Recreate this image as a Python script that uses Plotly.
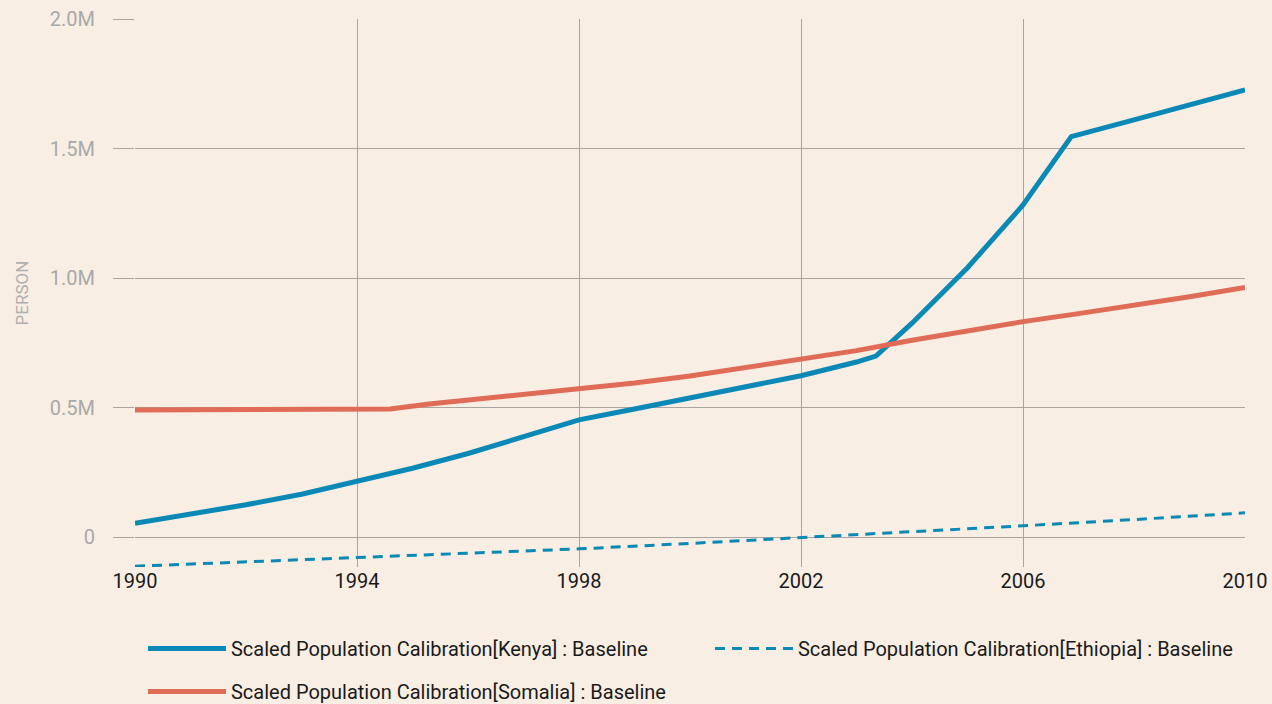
import plotly.graph_objects as go

# values in persons
kenya_years = [1990, 1991, 1992, 1993, 1994, 1995, 1996, 1997, 1998, 1999, 2000,
               2001, 2002, 2003, 2003.35, 2004, 2005, 2006, 2006.87, 2008, 2009, 2010]
kenya_pop = [54e3, 88e3, 125e3, 166e3, 214e3, 266e3, 323e3, 386e3, 453e3, 495e3, 537e3,
             580e3, 623e3, 676e3, 699e3, 826e3, 1040e3, 1282e3, 1546e3, 1611e3, 1668e3, 1726e3]

somalia_years = [1990, 1993.7, 1994.6, 1995.3, 1996, 1997, 1998, 1999, 2000, 2001, 2002,
                 2003, 2004, 2005, 2006, 2007, 2008, 2009, 2010]
somalia_pop = [491e3, 491e3, 495e3, 514e3, 530e3, 551e3, 571e3, 595e3, 622e3, 655e3, 690e3,
               720e3, 760e3, 796e3, 832e3, 863e3, 895e3, 928e3, 964e3]

ethiopia_years = [1990, 1992, 1994, 1996, 1998, 2000, 2002, 2004, 2006, 2008, 2010]
ethiopia_pop = [-112e3, -95e3, -78e3, -62e3, -45e3, -24e3, -2e3, 21e3, 44e3, 68e3, 94e3]

y_ticks = [0, 0.5e6, 1.0e6, 1.5e6, 2.0e6]
y_labels = ["0", "0.5M", "1.0M", "1.5M", "2.0M"]

blue = "#0a88b6"
orange = "#e06b57"
grid = "#aaa49e"
bg = "#f8eee3"
font = "Roboto, sans-serif"

fig = go.Figure()
fig.add_trace(go.Scatter(x=kenya_years, y=kenya_pop, mode="lines",
                         name="Scaled Population Calibration[Kenya] : Baseline",
                         line=dict(color=blue, width=5), legend="legend", showlegend=True))
fig.add_trace(go.Scatter(x=ethiopia_years, y=ethiopia_pop, mode="lines",
                         name="Scaled Population Calibration[Ethiopia] : Baseline",
                         line=dict(color=blue, width=3, dash="10px,7px"), legend="legend2"))
fig.add_trace(go.Scatter(x=somalia_years, y=somalia_pop, mode="lines",
                         name="Scaled Population Calibration[Somalia] : Baseline",
                         line=dict(color=orange, width=5), legend="legend3"))

## one legend box per entry so they sit like the original (two columns)
leg = dict(orientation="h", xanchor="left", yanchor="top", itemwidth=78,
           font=dict(size=20, color="#1a1a1a"), bgcolor="rgba(0,0,0,0)")

fig.update_layout(
    width=1272, height=704,
    showlegend=True,
    paper_bgcolor=bg, plot_bgcolor=bg,
    margin=dict(l=135, r=27, t=19, b=137, autoexpand=False),
    font=dict(family=font, size=20, color="#1a1a1a"),
    legend=dict(leg, x=0.0072, y=-0.113),
    legend2=dict(leg, x=0.518, y=-0.113),
    legend3=dict(leg, x=0.0072, y=-0.1916),
    xaxis=dict(range=[1990, 2010], tickvals=[1990, 1994, 1998, 2002, 2006, 2010],
               showgrid=True, gridcolor=grid, gridwidth=1, zeroline=False,
               showline=False, ticks="", tickfont=dict(size=20, color="#1a1a1a")),
    yaxis=dict(range=[-0.115e6, 2.0e6], tickvals=y_ticks, ticktext=y_labels,
               showgrid=True, gridcolor=grid, gridwidth=1, zeroline=False,
               showline=False, ticks="outside", ticklen=21, tickcolor=grid,
               ticklabelstandoff=14,
               tickfont=dict(size=20, color="#a9a9a9"),
               title=dict(text="PERSON", font=dict(size=17, color="#b0b0b0"), standoff=16)),
)

fig.write_html("out.html", config={"displayModeBar": False},
               post_script="document.body.style.margin='0px';")
